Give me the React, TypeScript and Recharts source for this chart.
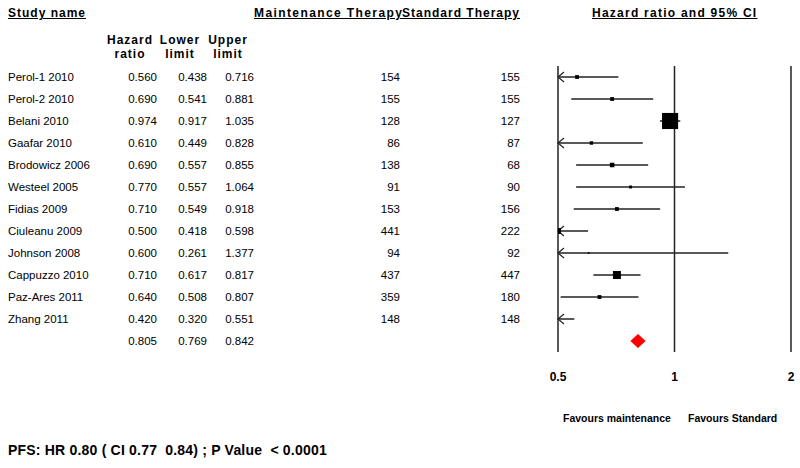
import { ComposedChart, ReferenceLine, Scatter, XAxis, YAxis } from "recharts";

const studies = [
  "Perol-1 2010",
  "Perol-2 2010",
  "Belani 2010",
  "Gaafar 2010",
  "Brodowicz 2006",
  "Westeel 2005",
  "Fidias 2009",
  "Ciuleanu 2009",
  "Johnson 2008",
  "Cappuzzo 2010",
  "Paz-Ares 2011",
  "Zhang 2011",
  "",
];
const hazardRatio = [0.56, 0.69, 0.974, 0.61, 0.69, 0.77, 0.71, 0.5, 0.6, 0.71, 0.64, 0.42, 0.805];
const lowerLimit = [0.438, 0.541, 0.917, 0.449, 0.557, 0.557, 0.549, 0.418, 0.261, 0.617, 0.508, 0.32, 0.769];
const upperLimit = [0.716, 0.881, 1.035, 0.828, 0.855, 1.064, 0.918, 0.598, 1.377, 0.817, 0.807, 0.551, 0.842];
const maintenanceN = [154, 155, 128, 86, 138, 91, 153, 441, 94, 437, 359, 148, null];
const standardN = [155, 155, 127, 87, 68, 90, 156, 222, 92, 447, 180, 148, null];
// relative study weights (%), drive the square size
const weights = [2.5, 2.5, 45, 2, 3.5, 1.5, 2.5, 6, 0.5, 11, 2.5, 2];
const xTicks = [0.5, 1, 2];

const X_MIN = 0.5;
const X_MAX = 2;
const SUMMARY_ROW = studies.length - 1;
const FONT = "'Liberation Sans', Arial, sans-serif";
const LINE = "#222";

const rows = studies.map((name, i) => ({
  row: i,
  name,
  hr: hazardRatio[i],
  lo: lowerLimit[i],
  hi: upperLimit[i],
}));

const points = rows
  .slice(0, SUMMARY_ROW)
  .map((r, i) => ({ ...r, weight: weights[i] }))
  .filter((r) => r.hr >= X_MIN && r.hr <= X_MAX);

const TableRow = ({ y, payload }: any) => {
  const i = payload.value;
  const r = rows[i];
  if (!r) return null;
  return (
    <g fontFamily={FONT} fontSize={11.5} fill="#000">
      <text x={8} y={y} dy="0.35em">{r.name}</text>
      <text x={157} y={y} dy="0.35em" textAnchor="end">{r.hr.toFixed(3)}</text>
      <text x={207} y={y} dy="0.35em" textAnchor="end">{r.lo.toFixed(3)}</text>
      <text x={254} y={y} dy="0.35em" textAnchor="end">{r.hi.toFixed(3)}</text>
      <text x={400} y={y} dy="0.35em" textAnchor="end">{maintenanceN[i] ?? ""}</text>
      <text x={520} y={y} dy="0.35em" textAnchor="end">{standardN[i] ?? ""}</text>
    </g>
  );
};

const ciShape = (clipped: boolean) => (props: any) => {
  const { x1, y1, x2, y2 } = props;
  return (
    <g>
      <line x1={x1} y1={y1} x2={x2} y2={y2} stroke={LINE} strokeWidth={1.5} />
      {clipped && (
        <path
          d={`M${x1 + 6},${y1 - 5} L${x1},${y1} L${x1 + 6},${y1 + 5}`}
          fill="none"
          stroke={LINE}
          strokeWidth={1.2}
        />
      )}
    </g>
  );
};

const diamondShape = (props: any) => {
  const { x1, y1, x2 } = props;
  const mid = (x1 + x2) / 2;
  return (
    <path
      d={`M${x1},${y1} L${mid},${y1 - 7} L${x2},${y1} L${mid},${y1 + 7} Z`}
      fill="#ff0000"
    />
  );
};

const squareShape = (props: any) => {
  const { cx, cy, payload } = props;
  const side = Math.sqrt(payload.weight) * 2.4;
  return <rect x={cx - side / 2} y={cy - side / 2} width={side} height={side} fill="#000" />;
};

const headerStyle: React.CSSProperties = {
  position: "absolute",
  fontFamily: FONT,
  fontWeight: "bold",
  fontSize: 12,
  letterSpacing: 1,
  lineHeight: "14px",
  whiteSpace: "pre",
  color: "#000",
};

const App = () => {
  return (
    <div style={{ position: "absolute", left: 0, top: 0, width: 800, height: 468, background: "#fff" }}>
      <ComposedChart
        width={800}
        height={468}
        margin={{ top: 66, right: 9, bottom: 86, left: 0 }}
      >
        <XAxis
          type="number"
          dataKey="hr"
          scale="log"
          domain={[X_MIN, X_MAX]}
          ticks={xTicks}
          allowDataOverflow
          axisLine={false}
          tickLine={false}
          tickMargin={14}
          height={30}
          tickFormatter={(v) => String(v)}
          tick={{ fontSize: 12, fontWeight: "bold", fill: "#000", fontFamily: FONT }}
        />
        <YAxis
          type="number"
          dataKey="row"
          domain={[-0.5, SUMMARY_ROW + 0.5]}
          ticks={rows.map((r) => r.row)}
          interval={0}
          reversed
          width={558}
          axisLine={false}
          tickLine={false}
          tick={<TableRow />}
        />
        {xTicks.map((t) => (
          <ReferenceLine key={`v${t}`} x={t} stroke={LINE} strokeWidth={1.5} />
        ))}
        {rows.slice(0, SUMMARY_ROW).map((r) => {
          const lo = Math.max(r.lo, X_MIN);
          const hi = Math.min(r.hi, X_MAX);
          return (
            <ReferenceLine
              key={`ci${r.row}`}
              segment={[
                { x: lo, y: r.row },
                { x: hi, y: r.row },
              ]}
              shape={ciShape(r.lo < X_MIN)}
            />
          );
        })}
        <ReferenceLine
          segment={[
            { x: rows[SUMMARY_ROW].lo, y: SUMMARY_ROW },
            { x: rows[SUMMARY_ROW].hi, y: SUMMARY_ROW },
          ]}
          shape={diamondShape}
        />
        <Scatter data={points} shape={squareShape} isAnimationActive={false} />
      </ComposedChart>

      <div style={{ ...headerStyle, left: 8, top: 6, textDecoration: "underline" }}>Study name</div>
      <div style={{ ...headerStyle, left: 254, top: 6, letterSpacing: 1.4, textDecoration: "underline" }}>
        Maintenance Therapy
      </div>
      <div style={{ ...headerStyle, left: 402, top: 6, textDecoration: "underline" }}>Standard Therapy</div>
      <div style={{ ...headerStyle, left: 592, top: 6, letterSpacing: 1.25, textDecoration: "underline" }}>
        Hazard ratio and 95% CI
      </div>

      <div style={{ ...headerStyle, left: 100, top: 33, width: 60, textAlign: "center" }}>{"Hazard\nratio"}</div>
      <div style={{ ...headerStyle, left: 150, top: 33, width: 60, textAlign: "center" }}>{"Lower\nlimit"}</div>
      <div style={{ ...headerStyle, left: 198, top: 33, width: 60, textAlign: "center" }}>{"Upper\nlimit"}</div>

      <div style={{ ...headerStyle, fontSize: 10.5, letterSpacing: 0, left: 563, top: 411 }}>Favours maintenance</div>
      <div style={{ ...headerStyle, fontSize: 10.5, letterSpacing: 0, left: 688, top: 411 }}>Favours Standard</div>

      <div style={{ ...headerStyle, fontSize: 14, letterSpacing: 0.2, lineHeight: "16px", left: 8, top: 442 }}>
        PFS: HR 0.80 ( CI 0.77  0.84) ; P Value  &lt; 0.0001
      </div>
    </div>
  );
};

export default App;
